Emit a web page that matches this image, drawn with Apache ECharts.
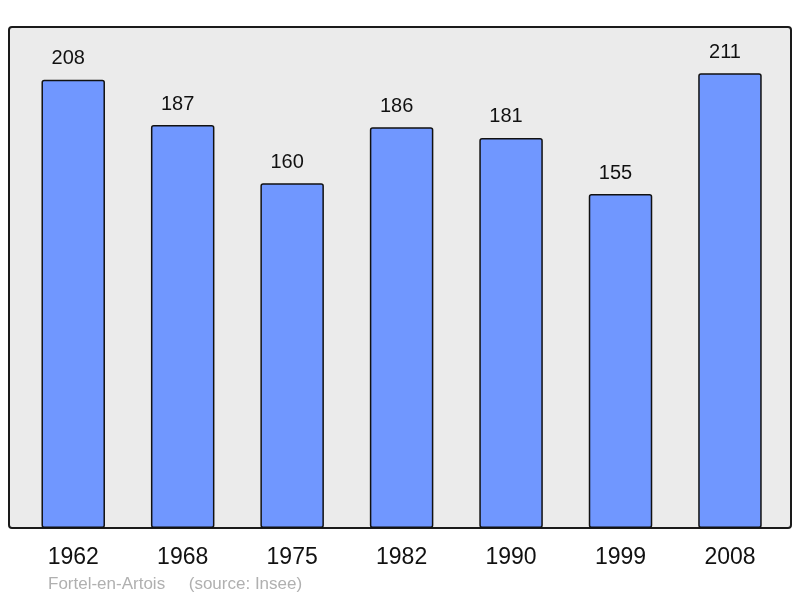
<!DOCTYPE html>
<html>
<head>
<meta charset="utf-8">
<script src="https://cdn.jsdelivr.net/npm/echarts@6/dist/echarts.min.js"></script>
<style>html,body{margin:0;padding:0;background:#fff;}#c{width:800px;height:598px;}</style>
</head>
<body>
<div id="c"></div>
<script>
const years = ['1962', '1968', '1975', '1982', '1990', '1999', '2008'];
const population = [208, 187, 160, 186, 181, 155, 211];
const footer = 'Fortel-en-Artois     (source: Insee)';

const chart = echarts.init(document.getElementById('c'), null, {renderer: 'canvas'});
chart.setOption({
  animation: false,
  backgroundColor: '#ffffff',
  graphic: [
    {type: 'rect', z: -10, shape: {x: 9, y: 27, width: 782, height: 501, r: 3},
     style: {fill: '#ebebeb', stroke: '#1a1a1a', lineWidth: 2}},
    {type: 'text', left: 48, top: 576, style: {text: footer, fill: '#b0b0b0', font: '17px "Liberation Sans", Arial, sans-serif'}}
  ],
  grid: {left: 18.5, right: 15.3, top: 27, bottom: 70, containLabel: false},
  xAxis: {
    type: 'category', data: years,
    axisLine: {show: false}, axisTick: {show: false},
    axisLabel: {color: '#111', fontSize: 23, fontFamily: 'Liberation Sans', margin: 18}
  },
  yAxis: {type: 'value', min: 0, max: 232.5, show: false, splitLine: {show: false}},
  series: [{
    type: 'bar', data: population, barWidth: 63.5,
    itemStyle: {color: '#7097ff', borderColor: '#111', borderWidth: 1.5, borderRadius: 2},
    label: {show: true, position: 'top', distance: 11, offset: [-5, 0], color: '#111', fontSize: 20, fontFamily: 'Liberation Sans'}
  }]
});
</script>
</body>
</html>
